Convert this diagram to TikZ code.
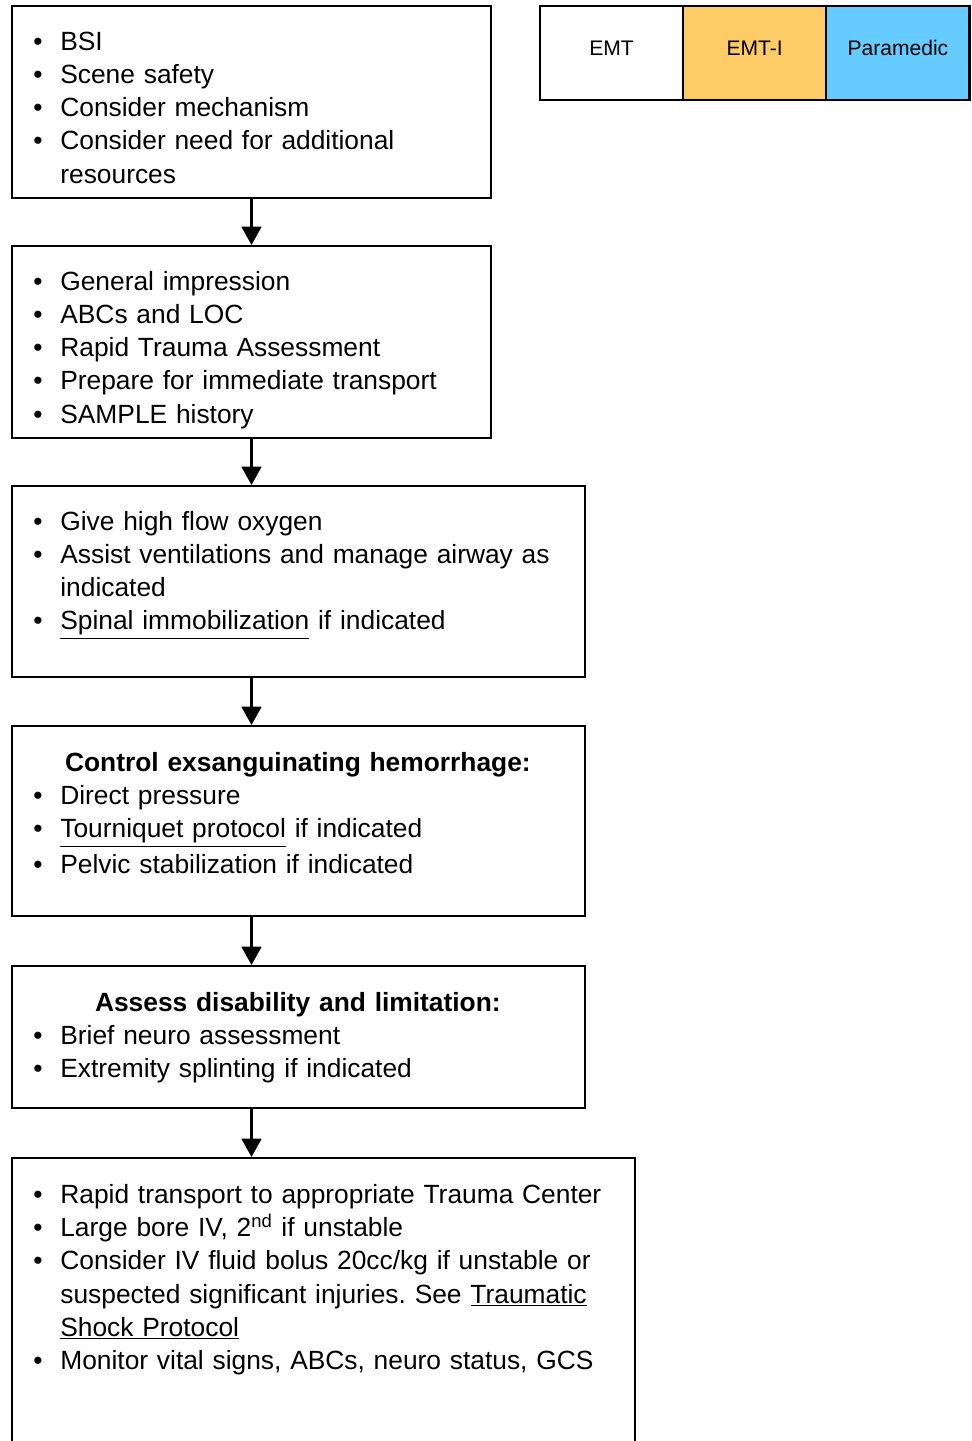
\documentclass[tikz,border=0pt]{standalone}
\usepackage{fontspec}
\setmainfont{Liberation Sans}
\usetikzlibrary{positioning,fit,arrows.meta}

\definecolor{emtiorange}{HTML}{FECC66}
\definecolor{medicblue}{HTML}{66CCFF}

\hyphenpenalty=10000
\exhyphenpenalty=10000
\frenchspacing

\newcommand{\boxstrut}{\rule{0pt}{14pt}}
\newcommand{\itm}[1]{\hangindent=15.4pt\hangafter=1\noindent\boxstrut\makebox[15.4pt][l]{\textbullet}#1\par}
\newcommand{\hdr}[1]{\noindent\boxstrut\hspace*{-0.5pt}\makebox[\linewidth]{\bfseries #1}\par}

\begin{document}
\begin{tikzpicture}[x=0.02cm, y=-0.02cm,
    stepbox/.style={draw, line width=1.2pt, inner sep=0pt},
    steptext/.style={anchor=north west, inner sep=0pt, align=left, font=\fontsize{15}{18.8}\selectfont},
    levelbox/.style={draw, line width=1.2pt, inner sep=0pt, outer sep=0pt, minimum width=81.5pt, minimum height=53.5pt,
        text height=8.6pt, text depth=5.6pt, font=\fontsize{12}{14}\selectfont},
    flow/.style={line width=1.2pt, -{Triangle[width=11.4pt,length=10.5pt]}}]
    
    \useasboundingbox (0,0) rectangle (971,1441);

    \node[levelbox] (emt) at (611.5,53) {EMT};
    \node[levelbox, fill=emtiorange, right=0pt of emt] (emti) {EMT-I};
    \node[levelbox, fill=medicblue, right=0pt of emti] (medic) {Paramedic};

    \node[stepbox, fit={(12,6) (491,198)}] (scene) {};
    \node[stepbox, fit={(12,246) (491,438)}] (initial) {};
    \node[stepbox, fit={(12,486) (585,677)}] (airway) {};
    \node[stepbox, fit={(12,726) (585,916)}] (bleed) {};
    \node[stepbox, fit={(12,966) (585,1108)}] (disab) {};
    \node[stepbox, fit={(12,1158) (635,1470)}] (transp) {};

    \node[steptext, text width=248.7pt] (scenetxt) at ([shift={(22,21)}]scene.north west) {%
        \itm{BSI}
        \itm{Scene safety}
        \itm{Consider mechanism}
        \itm{Consider need for additional resources}};
    \node[steptext, text width=248.7pt] (initialtxt) at ([shift={(22,21)}]initial.north west) {%
        \itm{General impression}
        \itm{ABCs and LOC}
        \itm{Rapid Trauma Assessment}
        \itm{Prepare for immediate transport}
        \itm{SAMPLE history}};
    \node[steptext, text width=302.2pt] (airwaytxt) at ([shift={(22,21)}]airway.north west) {%
        \itm{Give high flow oxygen}
        \itm{Assist ventilations and manage airway as indicated}
        \itm{\underline{Spinal immobilization} if indicated}};
    \node[steptext, text width=302.2pt] (bleedtxt) at ([shift={(22,22)}]bleed.north west) {%
        \hdr{Control exsanguinating hemorrhage:}
        \itm{Direct pressure}
        \itm{\underline{Tourniquet protocol} if indicated}
        \itm{Pelvic stabilization if indicated}};
    \node[steptext, text width=302.2pt] (disabtxt) at ([shift={(22,22)}]disab.north west) {%
        \hdr{Assess disability and limitation:}
        \itm{Brief neuro assessment}
        \itm{Extremity splinting if indicated}};
    \node[steptext, text width=330.6pt] (transptxt) at ([shift={(22,22)}]transp.north west) {%
        \itm{Rapid transport to appropriate Trauma Center}
        \itm{Large bore IV, 2\textsuperscript{nd} if unstable}
        \itm{Consider IV fluid bolus 20cc/kg if unstable or suspected significant injuries. See \underline{Traumatic} \underline{Shock Protocol}}
        \itm{Monitor vital signs, ABCs, neuro status, GCS}};

    \draw[flow] (scene.south) -- (initial.north);
    \draw[flow] (initial.south) -- (initial.south |- airway.north);
    \draw[flow] (initial.south |- airway.south) -- (initial.south |- bleed.north);
    \draw[flow] (initial.south |- bleed.south) -- (initial.south |- disab.north);
    \draw[flow] (initial.south |- disab.south) -- (initial.south |- transp.north);
\end{tikzpicture}
\end{document}
